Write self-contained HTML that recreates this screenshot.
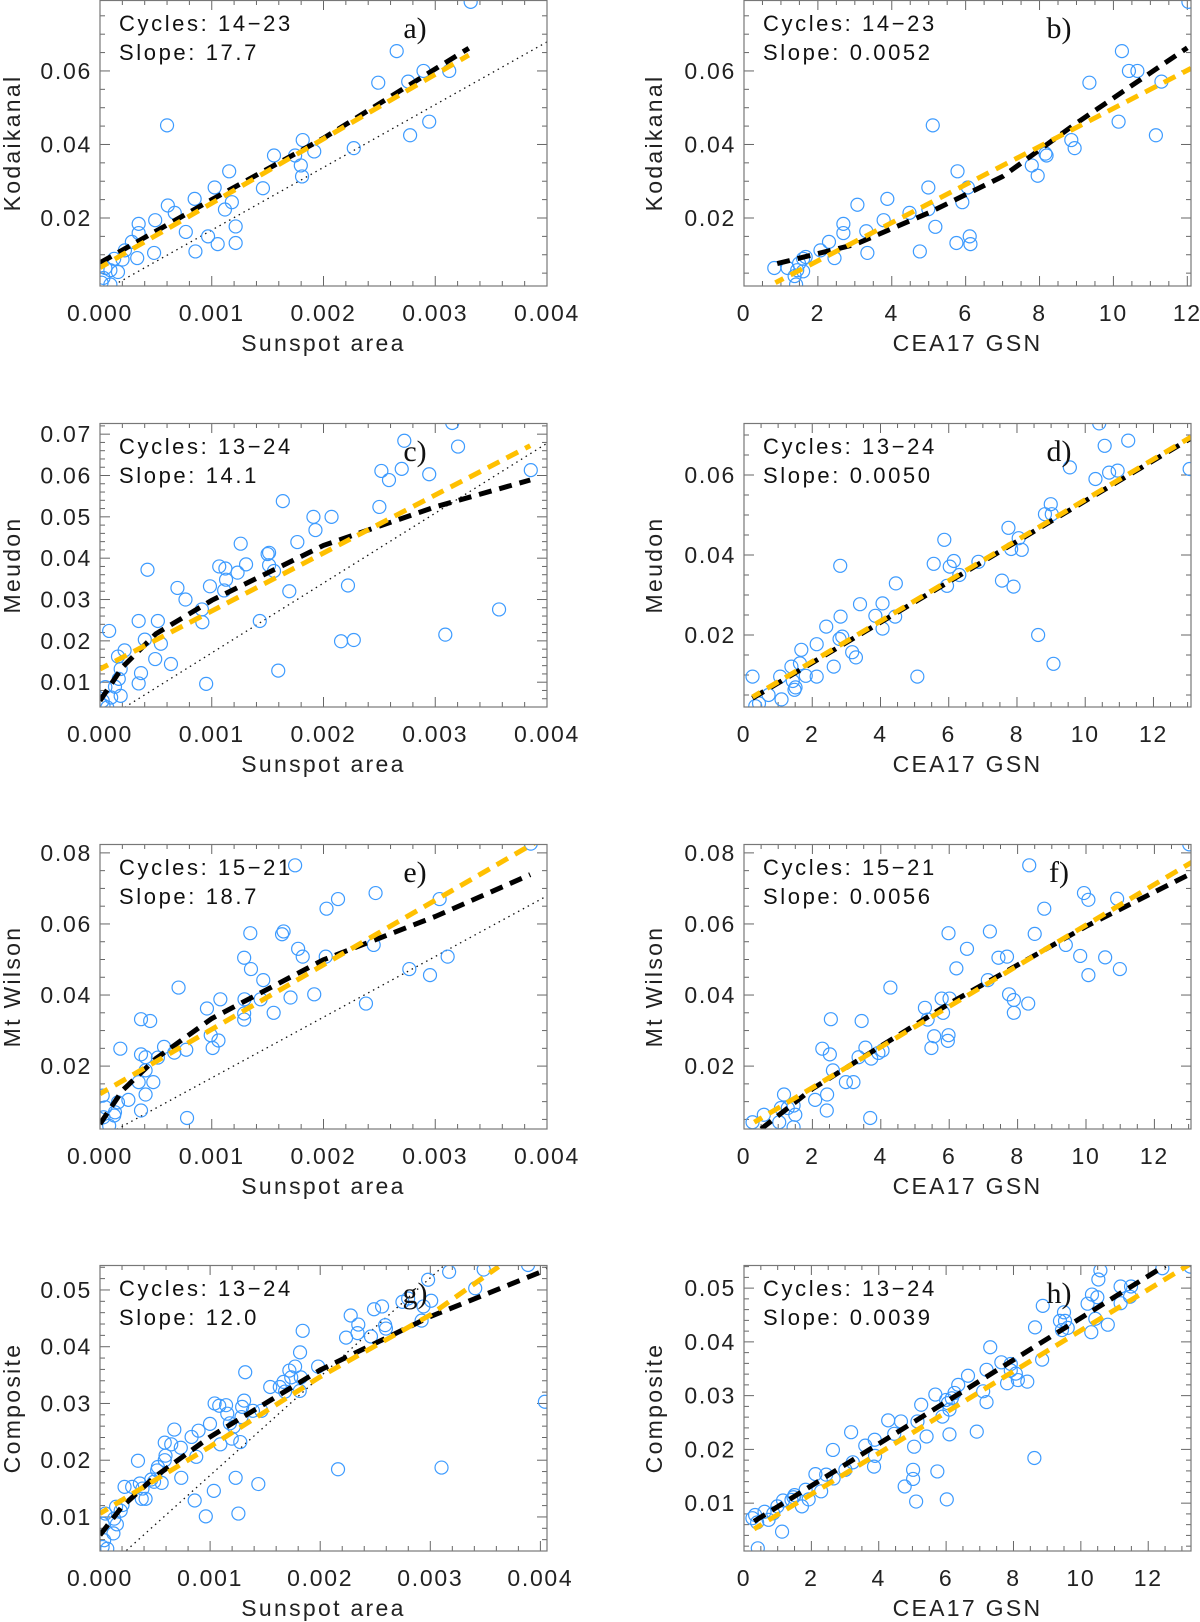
<!DOCTYPE html>
<html><head><meta charset="utf-8"><style>
html,body{margin:0;padding:0;background:#fff;}
svg{display:block;font-family:"Liberation Sans",sans-serif;}
.tk{font-size:23px;fill:#222;letter-spacing:1.7px;}
.ann{font-size:22px;fill:#111;letter-spacing:2.6px;}
.ttl{font-size:23px;fill:#222;letter-spacing:2.3px;}
.lab{font-family:"Liberation Serif",serif;font-size:30px;fill:#111;}
</style></head><body>
<svg id="fig" width="1200" height="1622" viewBox="0 0 1200 1622" xmlns="http://www.w3.org/2000/svg"></svg>
<script>
// ---- panel a: Kodaikanal vs Sunspot area
const aX=[0.003317,0.002655,0.00249,0.002758,0.002895,0.003125,0.002946,0.002775,0.002271,0.001814,0.001917,0.001797,0.001808,0.001746,0.001557,0.001458,0.001156,0.00118,0.001118,0.001026,0.001214,0.001214,0.001053,0.000967,0.000854,0.000847,0.000768,0.000669,0.000607,0.0006,0.000494,0.000484,0.000346,0.000346,0.000333,0.000285,0.000223,0.000202,0.000127,0.000161,0.000093,0.000048,0.000031,0.000093,0.000014];
const aY=[0.0788,0.0654,0.0568,0.0571,0.0600,0.0600,0.0462,0.0425,0.0390,0.0412,0.0381,0.0343,0.0313,0.0370,0.0370,0.0281,0.0327,0.0243,0.0223,0.0283,0.0177,0.0132,0.0129,0.0150,0.0109,0.0252,0.0162,0.0214,0.0234,0.0452,0.0194,0.0105,0.0184,0.0159,0.0091,0.0135,0.0112,0.0087,0.0089,0.0053,0.0058,0.0064,0.0037,0.0019,0.0024];
const aBlackX=[0,0.001,0.002,0.0033], aBlackY=[0.0078,0.025,0.0417,0.0662];
const aYellowX=[0,0.0033], aYellowY=[0.0065,0.0643];
const aDotX=[0.000168,0.004], aDotY=[0.0025,0.0679];
// ---- panel b: Kodaikanal vs CEA17 GSN
const bX=[12.03,10.23,10.42,10.65,11.30,9.35,10.14,11.15,8.86,8.95,8.16,8.19,7.79,7.95,5.11,5.78,6.06,4.99,5.91,4.99,5.18,5.75,6.11,6.13,4.76,4.48,3.88,3.78,3.07,2.69,2.69,3.31,3.34,2.30,2.45,2.07,1.67,1.60,1.49,1.44,1.60,1.18,0.82,1.37,1.41];
const bY=[0.0788,0.0654,0.0600,0.0600,0.0571,0.0568,0.0462,0.0425,0.0412,0.0390,0.0375,0.0370,0.0343,0.0315,0.0452,0.0327,0.0283,0.0283,0.0243,0.0224,0.0176,0.0132,0.0150,0.0129,0.0109,0.0214,0.0252,0.0194,0.0236,0.0184,0.0159,0.0164,0.0105,0.0135,0.0091,0.0112,0.0094,0.0089,0.0076,0.0058,0.0055,0.0064,0.0064,0.0042,0.0019];
const bBlackX=[0.9,3,5,7,9,12], bBlackY=[0.0076,0.0128,0.0214,0.0313,0.0458,0.0663];
const bYellowX=[0.85,12.1], bYellowY=[0.0024,0.0607];
// ---- panel c: Meudon vs Sunspot area
const cX=[0.003152,0.003204,0.002723,0.0027,0.002518,0.002586,0.002946,0.003855,0.0025,0.00191,0.002072,0.001928,0.001636,0.001766,0.001259,0.001513,0.001513,0.0015,0.001557,0.001307,0.001231,0.001067,0.001122,0.001128,0.001111,0.000984,0.000693,0.000765,0.000912,0.000916,0.001694,0.00143,0.002219,0.002157,0.002271,0.003571,0.00309,0.001595,0.00095,0.000425,0.000346,0.000518,0.000401,0.000545,0.000494,0.000635,0.000367,0.000346,0.000082,0.00022,0.000161,0.000185,0.000168,0.000134,0.000185,0.0001,0.000048,0.000024,0.000031,0.000065];
const cY=[0.0727,0.0670,0.0684,0.0616,0.0611,0.0589,0.0603,0.0613,0.0524,0.0500,0.0500,0.0468,0.0538,0.0439,0.0435,0.0413,0.0383,0.0410,0.0369,0.0385,0.0365,0.0380,0.0375,0.0348,0.0322,0.0332,0.0328,0.0300,0.0276,0.0245,0.0320,0.0248,0.0334,0.0199,0.0202,0.0276,0.0215,0.0128,0.0096,0.0372,0.0248,0.0248,0.0203,0.0193,0.0156,0.0144,0.0122,0.0097,0.0224,0.0177,0.0162,0.0132,0.0108,0.0089,0.0067,0.0063,0.0088,0.0055,0.0043,0.0039];
const cBlackX=[0,0.0002,0.0005,0.001,0.002,0.003,0.00385], cBlackY=[0.0055,0.0136,0.0217,0.0298,0.0431,0.0524,0.0589];
const cYellowX=[0,0.00385], cYellowY=[0.0132,0.0672];
const cDotX=[0.00022,0.004], cDotY=[0.0039,0.0678];
// ---- panel d: Meudon vs CEA17 GSN
const dX=[10.41,10.57,11.26,9.55,13.06,10.30,10.70,10.95,8.99,8.82,9.02,7.75,8.05,7.83,8.14,5.87,5.56,6.15,6.03,6.31,5.95,6.87,7.56,7.90,2.82,4.45,3.40,4.06,3.85,4.43,4.06,2.83,2.88,2.80,2.41,2.13,1.68,1.64,1.39,1.43,1.48,1.51,1.81,2.13,1.06,0.72,1.10,0.25,0.33,0.44,3.17,3.28,2.63,5.08,8.62,9.07];
const dY=[0.0729,0.0673,0.0686,0.0619,0.0615,0.0590,0.0606,0.0611,0.0527,0.0502,0.0502,0.0468,0.0442,0.0415,0.0413,0.0438,0.0378,0.0385,0.0371,0.0350,0.0323,0.0383,0.0336,0.0321,0.0373,0.0329,0.0277,0.0279,0.0248,0.0246,0.0216,0.0246,0.0196,0.0190,0.0221,0.0177,0.0163,0.0129,0.0121,0.0085,0.0063,0.0069,0.0098,0.0096,0.0096,0.0050,0.0039,0.0096,0.0022,0.0029,0.0157,0.0144,0.0121,0.0096,0.0200,0.0128];
const dBlackX=[0.25,13.1], dBlackY=[0.0042,0.0692];
const dYellowX=[0.25,13.1], dYellowY=[0.0045,0.0695];
// ---- panel e: Mt Wilson vs Sunspot area
const eX=[0.003855,0.001746,0.002466,0.00213,0.002027,0.003039,0.001345,0.001629,0.001643,0.002449,0.001773,0.001814,0.00202,0.00129,0.001351,0.003111,0.002768,0.002953,0.001461,0.001917,0.001705,0.00238,0.001077,0.001293,0.001437,0.000957,0.00129,0.00129,0.001554,0.000367,0.000449,0.000703,0.000991,0.00106,0.001008,0.000772,0.000573,0.000665,0.000182,0.000367,0.000408,0.000518,0.000408,0.000346,0.000477,0.000408,0.000254,0.000161,0.000779,0.000367,0.000134,0.000127,0.000048,0.000024,0.000031,0.000082];
const eY=[0.0826,0.0765,0.0687,0.0670,0.0643,0.0670,0.0574,0.0571,0.0579,0.0541,0.0530,0.0508,0.0508,0.0505,0.0473,0.0508,0.0473,0.0456,0.0442,0.0402,0.0393,0.0376,0.0388,0.0388,0.0388,0.0362,0.0348,0.0331,0.0350,0.0332,0.0327,0.0421,0.0287,0.0272,0.0251,0.0246,0.0254,0.0238,0.0249,0.0233,0.0225,0.0224,0.0188,0.0155,0.0155,0.0120,0.0105,0.0098,0.0054,0.0075,0.0070,0.0061,0.0084,0.0117,0.0056,0.0032];
const eBlackX=[0,0.0002,0.0005,0.001,0.002,0.003,0.00385], eBlackY=[0.0037,0.0131,0.0221,0.0334,0.0499,0.0621,0.0739];
const eYellowX=[0,0.0039], eYellowY=[0.0122,0.0830];
const eDotX=[0.00015,0.004], eDotY=[0.0022,0.0679];
// ---- panel f: Mt Wilson vs CEA17 GSN
const fX=[8.34,13.02,9.94,10.07,10.91,8.78,5.98,7.19,8.50,6.52,9.83,10.56,7.44,7.69,9.41,10.99,10.07,6.21,7.13,4.28,5.78,6.01,7.75,7.89,7.89,8.31,5.29,5.37,5.82,2.54,3.44,5.56,5.98,5.96,5.48,3.55,3.35,4.05,3.93,3.72,2.29,2.51,2.60,2.98,3.20,2.43,2.08,2.42,3.69,1.17,1.08,1.28,1.45,1.50,1.03,1.45,0.58,0.25];
const fY=[0.0765,0.0824,0.0687,0.0668,0.0671,0.0643,0.0574,0.0579,0.0572,0.0530,0.0510,0.0506,0.0505,0.0508,0.0541,0.0473,0.0456,0.0475,0.0442,0.0421,0.0390,0.0390,0.0402,0.0386,0.0350,0.0376,0.0364,0.0331,0.0350,0.0332,0.0327,0.0284,0.0287,0.0271,0.0251,0.0252,0.0225,0.0244,0.0237,0.0221,0.0249,0.0233,0.0188,0.0155,0.0155,0.0120,0.0105,0.0075,0.0054,0.0120,0.0082,0.0082,0.0089,0.0063,0.0042,0.0028,0.0063,0.0042];
const fBlackX=[0.5,2,6,10,13.1], fBlackY=[0.0023,0.0136,0.0376,0.0593,0.0743];
const fYellowX=[0.3,13.1], fYellowY=[0.0042,0.0774];
// ---- panel g: Composite vs Sunspot area
const gX=[0.003888,0.003485,0.003171,0.003408,0.00298,0.002747,0.002799,0.003008,0.002938,0.002489,0.002562,0.002277,0.002346,0.00259,0.002235,0.002339,0.002461,0.002597,0.002921,0.001841,0.001817,0.001981,0.001772,0.00172,0.001737,0.001667,0.001824,0.001546,0.001633,0.001681,0.001814,0.001319,0.001309,0.001291,0.001285,0.001041,0.001083,0.001145,0.001156,0.000999,0.00118,0.001215,0.001274,0.001093,0.001197,0.001389,0.001466,0.000895,0.000832,0.000874,0.000675,0.000588,0.000647,0.000734,0.000738,0.000595,0.000519,0.000526,0.000588,0.000345,0.000223,0.000292,0.000362,0.000386,0.000379,0.000414,0.000466,0.000491,0.00056,0.000205,0.000146,0.000129,0.000188,0.000153,0.000122,0.000049,0.000024,0.000038,0.000024,0.000066,0.00086,0.000961,0.001034,0.001232,0.001257,0.001438,0.002162,0.003102,0.004041];
const gY=[0.0544,0.0536,0.0532,0.0503,0.0518,0.0479,0.0485,0.0481,0.0471,0.0466,0.0471,0.0455,0.0439,0.0438,0.0416,0.0424,0.0418,0.0432,0.0446,0.0428,0.0390,0.0365,0.0365,0.0358,0.0346,0.0338,0.0346,0.0329,0.0329,0.0321,0.0322,0.0355,0.0305,0.0294,0.0276,0.0300,0.0296,0.0297,0.0282,0.0264,0.0265,0.0259,0.0232,0.0228,0.0238,0.0287,0.0287,0.0252,0.0241,0.0206,0.0254,0.0231,0.0228,0.0222,0.0169,0.0208,0.0182,0.0188,0.0200,0.0199,0.0153,0.0153,0.0159,0.0150,0.0132,0.0132,0.0166,0.0162,0.0160,0.0121,0.0118,0.0097,0.0111,0.0087,0.0071,0.0106,0.0088,0.0059,0.0047,0.0044,0.0129,0.0101,0.0146,0.0169,0.0106,0.0158,0.0184,0.0187,0.0303];
const gBlackX=[0,0.0002,0.0005,0.001,0.002,0.003,0.00406], gBlackY=[0.0068,0.0118,0.0171,0.0241,0.0359,0.0453,0.0536];
const gYellowX=[0,0.001,0.002,0.003,0.00362], gYellowY=[0.0106,0.0224,0.0347,0.0456,0.0541];
const gDotX=[0.00024,0.003147], gDotY=[0.0041,0.0547];
// ---- panel h: Composite vs CEA17 GSN
const hX=[10.58,10.52,10.33,10.49,10.20,11.18,11.46,11.49,12.42,13.25,8.87,9.50,9.38,9.53,9.61,9.44,8.64,10.43,10.31,10.80,11.18,7.31,8.85,7.64,7.92,7.20,7.92,8.07,8.13,7.81,8.41,6.65,6.36,6.25,7.10,7.20,5.68,6.00,6.05,6.10,6.17,5.89,5.26,5.15,5.42,6.10,6.91,5.05,4.66,4.46,4.28,3.88,3.60,3.89,3.86,3.18,3.23,3.01,2.64,2.44,2.66,2.12,2.29,1.83,1.92,1.72,1.50,1.41,1.47,1.16,0.99,0.87,0.61,0.33,0.25,0.39,0.73,1.13,0.41,5.74,5.02,5.02,4.77,5.11,6.02,8.62];
const hY=[0.0533,0.0516,0.0488,0.0483,0.0471,0.0503,0.0484,0.0503,0.0537,0.0540,0.0467,0.0455,0.0439,0.0439,0.0426,0.0422,0.0427,0.0443,0.0418,0.0432,0.0472,0.0390,0.0367,0.0362,0.0359,0.0348,0.0347,0.0341,0.0329,0.0323,0.0326,0.0337,0.0320,0.0305,0.0308,0.0288,0.0302,0.0292,0.0286,0.0274,0.0295,0.0261,0.0283,0.0252,0.0224,0.0228,0.0233,0.0205,0.0252,0.0229,0.0254,0.0218,0.0207,0.0188,0.0168,0.0232,0.0176,0.0162,0.0199,0.0153,0.0146,0.0154,0.0122,0.0125,0.0107,0.0094,0.0115,0.0106,0.0111,0.0105,0.0094,0.0081,0.0084,0.0078,0.0072,0.0064,0.0069,0.0047,0.0016,0.0159,0.0162,0.0145,0.0131,0.0103,0.0107,0.0184];
const hBlackX=[0.3,12.5], hBlackY=[0.0066,0.0542];
const hYellowX=[0.3,13.2], hYellowY=[0.0052,0.0543];

// tick values & labels
const areaTicks=[0,0.001,0.002,0.003,0.004], areaLabels=["0.000","0.001","0.002","0.003","0.004"];
const gsnTicks=[0,2,4,6,8,10,12], gsnLabels=["0","2","4","6","8","10","12"];
const yTicksAB=[0.02,0.04,0.06], yLabelsAB=["0.02","0.04","0.06"];
const yTicksC=[0.01,0.02,0.03,0.04,0.05,0.06,0.07], yLabelsC=["0.01","0.02","0.03","0.04","0.05","0.06","0.07"];
const yTicksEF=[0.02,0.04,0.06,0.08], yLabelsEF=["0.02","0.04","0.06","0.08"];
const yTicksGH=[0.01,0.02,0.03,0.04,0.05], yLabelsGH=["0.01","0.02","0.03","0.04","0.05"];

const NS="http://www.w3.org/2000/svg";
const svg=document.getElementById('fig');
function mk(tag,attrs,parent){const e=document.createElementNS(NS,tag);for(const k in attrs)e.setAttribute(k,attrs[k]);(parent||svg).appendChild(e);return e;}

const panels=[
 {id:'a',L:100,R:547,T:0,B:286,x0:0,x1:0.004,y0:0.0015,y1:0.0793,xt:areaTicks,xl:areaLabels,xmin:0.0002,yt:yTicksAB,yl:yLabelsAB,ymin:0.005,X:aX,Y:aY,bx:aBlackX,by:aBlackY,yx:aYellowX,yy:aYellowY,dx:aDotX,dy:aDotY,cyc:"Cycles:  14\u221223",slope:"Slope:  17.7",yt2:"Kodaikanal",xt2:"Sunspot  area"},
 {id:'b',L:744,R:1191,T:0,B:286,x0:0,x1:12.1,y0:0.0015,y1:0.0793,xt:gsnTicks,xl:gsnLabels,xmin:0.5,yt:yTicksAB,yl:yLabelsAB,ymin:0.005,X:bX,Y:bY,bx:bBlackX,by:bBlackY,yx:bYellowX,yy:bYellowY,cyc:"Cycles:  14\u221223",slope:"Slope:  0.0052",yt2:"Kodaikanal",xt2:"CEA17  GSN"},
 {id:'c',L:100,R:547,T:423,B:707,x0:0,x1:0.004,y0:0.004,y1:0.0727,xt:areaTicks,xl:areaLabels,xmin:0.0002,yt:yTicksC,yl:yLabelsC,ymin:0.002,X:cX,Y:cY,bx:cBlackX,by:cBlackY,yx:cYellowX,yy:cYellowY,dx:cDotX,dy:cDotY,cyc:"Cycles:  13\u221224",slope:"Slope:  14.1",yt2:"Meudon",xt2:"Sunspot  area"},
 {id:'d',L:744,R:1191,T:423,B:707,x0:0,x1:13.1,y0:0.002,y1:0.073,xt:gsnTicks,xl:gsnLabels,xmin:0.5,yt:yTicksAB,yl:yLabelsAB,ymin:0.005,X:dX,Y:dY,bx:dBlackX,by:dBlackY,yx:dYellowX,yy:dYellowY,cyc:"Cycles:  13\u221224",slope:"Slope:  0.0050",yt2:"Meudon",xt2:"CEA17  GSN"},
 {id:'e',L:100,R:547,T:844,B:1129,x0:0,x1:0.004,y0:0.0023,y1:0.0825,xt:areaTicks,xl:areaLabels,xmin:0.0002,yt:yTicksEF,yl:yLabelsEF,ymin:0.005,X:eX,Y:eY,bx:eBlackX,by:eBlackY,yx:eYellowX,yy:eYellowY,dx:eDotX,dy:eDotY,cyc:"Cycles:  15\u221221",slope:"Slope:  18.7",yt2:"Mt  Wilson",xt2:"Sunspot  area"},
 {id:'f',L:744,R:1191,T:844,B:1129,x0:0,x1:13.07,y0:0.0023,y1:0.0825,xt:gsnTicks,xl:gsnLabels,xmin:0.5,yt:yTicksEF,yl:yLabelsEF,ymin:0.005,X:fX,Y:fY,bx:fBlackX,by:fBlackY,yx:fYellowX,yy:fYellowY,cyc:"Cycles:  15\u221221",slope:"Slope:  0.0056",yt2:"Mt  Wilson",xt2:"CEA17  GSN"},
 {id:'g',L:100,R:547,T:1265,B:1551,x0:0,x1:0.00406,y0:0.004,y1:0.0544,xt:areaTicks,xl:areaLabels,xmin:0.0002,yt:yTicksGH,yl:yLabelsGH,ymin:0.002,X:gX,Y:gY,bx:gBlackX,by:gBlackY,yx:gYellowX,yy:gYellowY,dx:gDotX,dy:gDotY,cyc:"Cycles:  13\u221224",slope:"Slope:  12.0",yt2:"Composite",xt2:"Sunspot  area"},
 {id:'h',L:744,R:1191,T:1265,B:1551,x0:0,x1:13.27,y0:0.0011,y1:0.0543,xt:gsnTicks,xl:gsnLabels,xmin:0.5,yt:yTicksGH,yl:yLabelsGH,ymin:0.002,X:hX,Y:hY,bx:hBlackX,by:hBlackY,yx:hYellowX,yy:hYellowY,cyc:"Cycles:  13\u221224",slope:"Slope:  0.0039",yt2:"Composite",xt2:"CEA17  GSN"}
];

const defs=mk('defs',{});
panels.forEach(p=>{
  const sx=v=>p.L+(v-p.x0)/(p.x1-p.x0)*(p.R-p.L);
  const sy=v=>p.B-(v-p.y0)/(p.y1-p.y0)*(p.B-p.T);
  const g=mk('g',{});
  
  
  const cp=mk('clipPath',{id:'clip'+p.id},defs);
  mk('rect',{x:p.L,y:p.T,width:p.R-p.L,height:p.B-p.T},cp);
  const tg=mk('g',{stroke:'#666','stroke-width':1},g);
  
  
  for(let v=p.x0;v<=p.x1+1e-12;v+=p.xmin){const x=sx(v);if(x>p.R-1)continue;
    const maj=p.xt.some(t=>Math.abs(t-v)<p.xmin*0.1);const len=maj?10:5;
    mk('line',{x1:x,x2:x,y1:p.B,y2:p.B-len},tg);mk('line',{x1:x,x2:x,y1:p.T,y2:p.T+len},tg);}
  const ys=Math.ceil(p.y0/p.ymin)*p.ymin;
  for(let v=ys;v<=p.y1+1e-12;v+=p.ymin){const y=sy(v);
    const maj=p.yt.some(t=>Math.abs(t-v)<p.ymin*0.1);const len=maj?10:5;
    mk('line',{x1:p.L,x2:p.L+len,y1:y,y2:y},tg);mk('line',{x1:p.R,x2:p.R-len,y1:y,y2:y},tg);}
  p.xt.forEach((t,i)=>{const tx=mk('text',{x:sx(t),y:p.B+35,'text-anchor':'middle',class:'tk'},g);tx.textContent=p.xl[i];
    
    });
  p.yt.forEach((t,i)=>{const tx=mk('text',{x:p.L-8,y:sy(t)+8,'text-anchor':'end',class:'tk'},g);tx.textContent=p.yl[i];
    
    });
  const xt=mk('text',{x:(p.L+p.R)/2,y:p.B+65,'text-anchor':'middle',class:'ttl'},g);xt.textContent=p.xt2;
  
  
  const ycx=p.L<400?20:662, ycy=(p.T+p.B)/2;
  const yt=mk('text',{x:ycx,y:ycy,'text-anchor':'middle',class:'ttl',transform:'rotate(-90 '+ycx+' '+ycy+')'},g);yt.textContent=p.yt2;
  
  
  const pg=mk('g',{'clip-path':'url(#clip'+p.id+')'},g);
  if(p.dx){const dl=mk('line',{x1:sx(p.dx[0]),y1:sy(p.dy[0]),x2:sx(p.dx[1]),y2:sy(p.dy[1]),stroke:'#111','stroke-width':1.3,'stroke-dasharray':'1.5 4'},pg);
    
    }
  p.X.forEach((v,i)=>{const c=mk('circle',{cx:sx(v),cy:sy(p.Y[i]),r:6.5,fill:'none',stroke:'#3d9bff','stroke-width':1.2},pg);
    
    });
  const pts=(xs,ys2)=>xs.map((v,i)=>sx(v).toFixed(1)+','+sy(ys2[i]).toFixed(1)).join(' ');
  const bl=mk('polyline',{points:pts(p.bx,p.by),fill:'none',stroke:'#000','stroke-width':5,'stroke-dasharray':'13 8'},pg);
  
  
  const yl=mk('polyline',{points:pts(p.yx,p.yy),fill:'none',stroke:'#ffc000','stroke-width':5,'stroke-dasharray':'13 8','stroke-dashoffset':4},pg);
  
  
  const fr=mk('rect',{x:p.L,y:p.T+0.5,width:p.R-p.L,height:p.B-p.T-0.5,fill:'none',stroke:'#777','stroke-width':1.2},g);
  
  
  const ax=p.L+19;
  const a1=mk('text',{x:ax,y:p.T+31,class:'ann'},g);a1.textContent=p.cyc;
  
  
  const a2=mk('text',{x:ax,y:p.T+60,class:'ann'},g);a2.textContent=p.slope;
  
  
  const lb=mk('text',{x:p.L+315,y:p.T+38,'text-anchor':'middle',class:'lab'},g);lb.textContent=p.id+')';
  
  
});
</script>
</body></html>
